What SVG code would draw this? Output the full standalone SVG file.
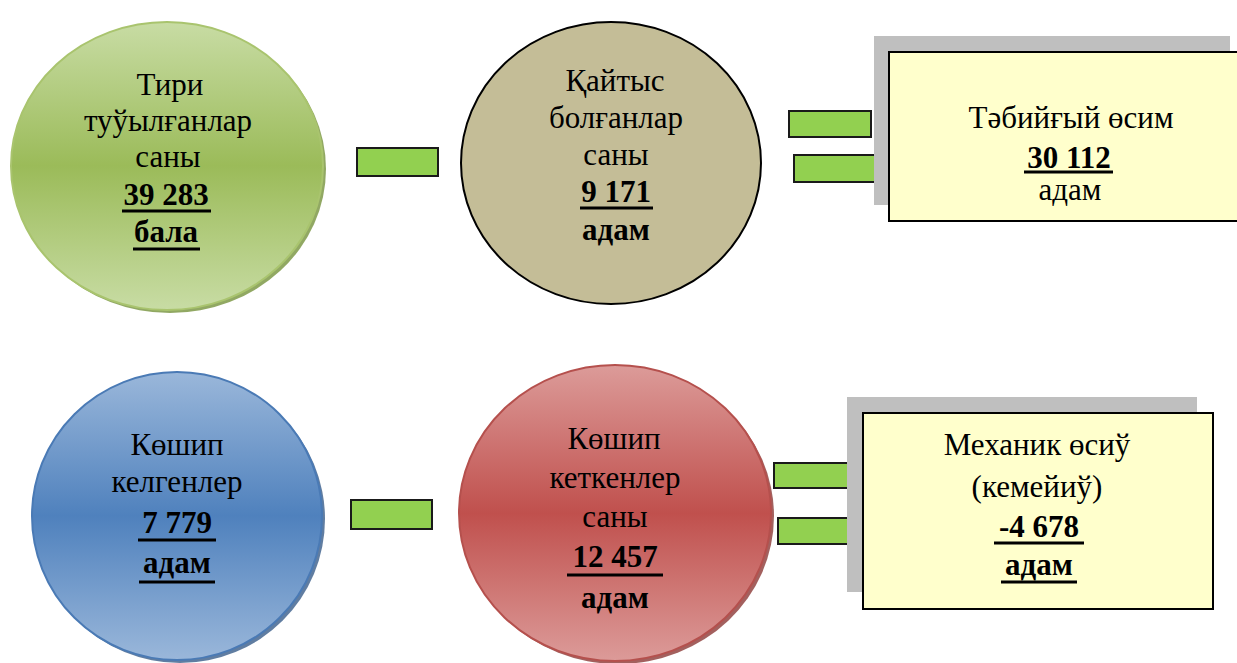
<svg xmlns="http://www.w3.org/2000/svg" width="1237" height="663" viewBox="0 0 1237 663">
<style>
text{font-family:'Liberation Serif','DejaVu Serif',serif;font-size:31px;fill:#000;text-anchor:middle}
.b{font-weight:bold}
.op{fill:#92d050;stroke:#1a1a1a;stroke-width:2}
.box{fill:#ffffcc;stroke:#000;stroke-width:2}
.sh{fill:#bfbfbf}
.ul{stroke:#000;stroke-width:3}
</style>
<defs>
<linearGradient id="gG" x1="0" y1="0" x2="0" y2="1">
<stop offset="0" stop-color="#c8dca4"/><stop offset="0.5" stop-color="#9bbb59"/><stop offset="1" stop-color="#c8dca4"/>
</linearGradient>
<linearGradient id="gB" x1="0" y1="0" x2="0" y2="1">
<stop offset="0" stop-color="#9ab7da"/><stop offset="0.5" stop-color="#4f81bd"/><stop offset="1" stop-color="#9ab7da"/>
</linearGradient>
<linearGradient id="gR" x1="0" y1="0" x2="0" y2="1">
<stop offset="0" stop-color="#dc9b99"/><stop offset="0.5" stop-color="#c0504d"/><stop offset="1" stop-color="#dc9b99"/>
</linearGradient>
</defs>

<g id="connectors">
<rect class="op" x="357" y="148" width="81" height="28"/>
<rect class="op" x="789" y="111" width="82" height="26"/>
<rect class="op" x="794" y="155" width="82" height="27"/>
<rect class="op" x="351" y="500" width="81" height="29"/>
<rect class="op" x="774" y="463" width="81" height="25"/>
<rect class="op" x="778" y="518" width="82" height="26"/>
</g>

<g id="n-births">
<ellipse cx="170" cy="169" rx="156" ry="144" fill="#76923c" opacity="0.8"/>
<ellipse cx="167" cy="166" rx="156" ry="144" fill="url(#gG)" stroke="#a9c46e" stroke-width="2"/>
<text x="170" y="95">Тири</text>
<text x="168" y="131">туўылғанлар</text>
<text x="168" y="167">саны</text>
<text x="166" y="205" class="b">39 283</text>
<line class="ul" x1="122" y1="211" x2="211" y2="211"/>
<text x="166" y="242" class="b">бала</text>
<line class="ul" x1="133" y1="249" x2="200" y2="249"/>
</g>

<g id="n-deaths">
<ellipse cx="611" cy="163" rx="150" ry="141" fill="#c4bd97" stroke="#000" stroke-width="2"/>
<text x="615" y="91">Қайтыс</text>
<text x="616" y="128">болғанлар</text>
<text x="616" y="165">саны</text>
<text x="616" y="202" class="b">9 171</text>
<line class="ul" x1="580" y1="208" x2="653" y2="208"/>
<text x="616" y="240" class="b">адам</text>
</g>

<g id="n-natural">
<rect class="sh" x="874" y="36" width="356" height="169"/>
<rect class="box" x="889" y="52" width="350" height="169"/>
<text x="1071" y="128">Тәбийғый өсим</text>
<text x="1069" y="168" class="b">30 112</text>
<line class="ul" x1="1024" y1="172" x2="1113" y2="172"/>
<text x="1070" y="200">адам</text>
</g>

<g id="n-arrived">
<ellipse cx="180" cy="519" rx="145" ry="144" fill="#385d8a" opacity="0.8"/>
<ellipse cx="177" cy="516" rx="145" ry="144" fill="url(#gB)" stroke="#4a7ab5" stroke-width="2"/>
<text x="177" y="455">Көшип</text>
<text x="177" y="492">келгенлер</text>
<text x="177" y="533" class="b">7 779</text>
<line class="ul" x1="138" y1="540" x2="216" y2="540"/>
<text x="177" y="573" class="b">адам</text>
<line class="ul" x1="139" y1="582" x2="215" y2="582"/>
</g>

<g id="n-left">
<ellipse cx="618" cy="516" rx="156" ry="148" fill="#8c3836" opacity="0.8"/>
<ellipse cx="615" cy="513" rx="156" ry="148" fill="url(#gR)" stroke="#b5504d" stroke-width="2"/>
<text x="614" y="449">Көшип</text>
<text x="615" y="488">кеткенлер</text>
<text x="615" y="527">саны</text>
<text x="615" y="567" class="b">12 457</text>
<line class="ul" x1="567" y1="575" x2="663" y2="575"/>
<text x="615" y="608" class="b">адам</text>
</g>

<g id="n-mech">
<rect class="sh" x="847" y="397" width="350" height="195"/>
<rect class="box" x="863" y="413" width="350" height="196"/>
<text x="1037" y="455">Механик өсиў</text>
<text x="1037" y="497">(кемейиў)</text>
<text x="1039" y="537" class="b">-4 678</text>
<line class="ul" x1="994" y1="543" x2="1084" y2="543"/>
<text x="1039" y="575" class="b">адам</text>
<line class="ul" x1="1001" y1="582" x2="1077" y2="582"/>
</g>
</svg>
